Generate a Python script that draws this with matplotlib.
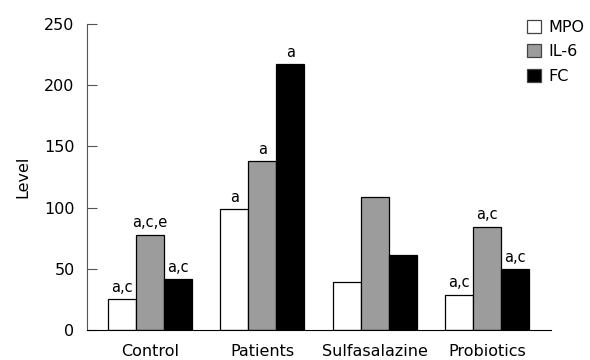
import matplotlib
matplotlib.use("Agg")
import matplotlib.pyplot as plt
import numpy as np

groups = ["Control", "Patients", "Sulfasalazine", "Probiotics"]
series_names = ["MPO", "IL-6", "FC"]
mpo = [25, 98.5, 39, 29]
il6 = [78, 138, 109, 84.5]
fc = [41.5, 217, 61.5, 50]
mpo_marks = ["a,c", "a", "", "a,c"]
il6_marks = ["a,c,e", "a", "", "a,c"]
fc_marks = ["a,c", "a", "", "a,c"]

colors = ["white", "#9c9c9c", "black"]

plt.rcParams["font.family"] = "DejaVu Sans"

fig = plt.figure(figsize=(5.9, 3.6), dpi=100)
ax = fig.add_axes([0.1475, 0.0833, 0.7865, 0.85])

x = np.arange(len(groups))
w = 0.249
for i, (vals, marks) in enumerate(zip([mpo, il6, fc], [mpo_marks, il6_marks, fc_marks])):
    pos = x + (i - 1) * w
    ax.bar(pos, vals, width=w, color=colors[i], edgecolor="black",
           linewidth=0.9, label=series_names[i])
    for p, v, m in zip(pos, vals, marks):
        if m:
            ax.annotate(m, (p, v), xytext=(0, 3), textcoords="offset points",
                        ha="center", va="bottom", fontsize=10.5)

ax.set_xlim(-0.56, 3.57)
ax.set_ylim(0, 250)
ax.set_yticks([0, 50, 100, 150, 200, 250])
ax.set_xticks(x)
ax.set_xticklabels(groups, fontsize=11.5)
ax.tick_params(axis="x", length=0, pad=10)
ax.tick_params(axis="y", direction="in", length=7, labelsize=11.5, pad=9,
               color="#555555")
ax.spines["top"].set_visible(False)
ax.spines["right"].set_visible(False)
ax.spines["left"].set_color("#555555")
ax.set_ylabel("Level", fontsize=11.5, labelpad=10)

leg = ax.legend(loc="upper left", bbox_to_anchor=(0.935, 1.035), frameon=False,
                fontsize=11.5, handlelength=0.85, handleheight=0.85,
                handletextpad=0.45, labelspacing=0.6, borderaxespad=0)
for h in leg.legend_handles:
    h.set_edgecolor("#444444")

fig.savefig("out.png", dpi=100)
